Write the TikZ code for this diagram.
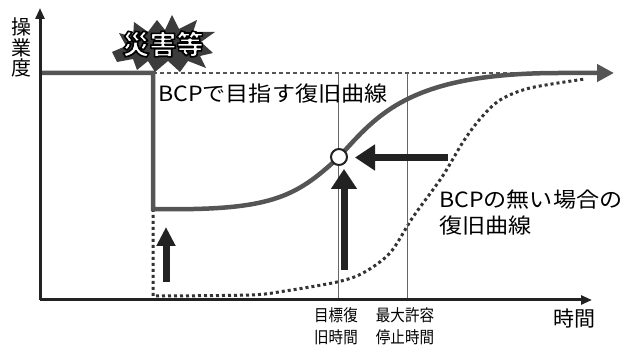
\documentclass[tikz,border=0pt]{standalone}
\usepackage{fontspec}
\usetikzlibrary{arrows.meta,calc}
\newfontfamily\jp[FakeStretch=1.1]{Noto Sans CJK JP}
\newfontfamily\jpn[FakeStretch=0.88]{Noto Sans CJK JP}
\newfontfamily\jpy{Noto Sans CJK JP}
\definecolor{axisc}{HTML}{222222}
\definecolor{curvec}{HTML}{555555}
\definecolor{dotc}{HTML}{333333}
\definecolor{thinc}{HTML}{666666}
\definecolor{burstc}{HTML}{3c3c3c}
\tikzset{
  axisline/.style={draw=axisc, line width=3pt, -{Triangle[length=11pt,width=9pt]}},
  mainline/.style={draw=curvec, line width=4.5pt, line join=miter},
  dotline/.style={draw=dotc, line width=3pt, dash pattern=on 3pt off 3pt},
  dashline/.style={draw=curvec, line width=1.2pt, dash pattern=on 4pt off 3pt},
  thinline/.style={draw=thinc, line width=1pt},
  bigarrow/.style={draw=axisc, line width=7pt, -{Triangle[length=20pt,width=25pt]}},
  lbl/.style={font=\jp\fontsize{21}{26}\selectfont, text=black, inner sep=0pt},
  smalllbl/.style={font=\jpn\fontsize{16.5}{22}\selectfont, text=black, inner sep=0pt, align=center},
  burstlbl/.style={font=\jpy\bfseries\fontsize{27}{27}\selectfont, inner sep=0pt}
}
\begin{document}
\begin{tikzpicture}[x=1pt,y=-1pt]
\useasboundingbox (0,0) rectangle (630,347);
% coordinates
\coordinate (O) at (40,300);
\coordinate (Ytop) at (40,8);
\coordinate (Xend) at (592,300);
\coordinate (L0) at (40,73);
\coordinate (Drop) at (153,73);
\coordinate (Low) at (153,209);
\coordinate (Mid) at (339,157);
\coordinate (Flat) at (560,73);
\coordinate (Tip) at (614,73);
\coordinate (Dtop) at (153,209);
\coordinate (Dbot) at (153,296);
\coordinate (DashS) at (153,73);
\coordinate (DashE) at (575,73);
\coordinate (T1top) at (338,73);
\coordinate (T1bot) at (338,300);
\coordinate (T2top) at (407,73);
\coordinate (T2bot) at (407,300);
\coordinate (A1s) at (448,157.5);
\coordinate (A1e) at (355,157.5);
\coordinate (A2s) at (344,270);
\coordinate (A2e) at (344,169);
\coordinate (A3s) at (166,282);
\coordinate (A3e) at (166,227);
\coordinate (BC) at (163,44);

% dotted recovery curve without BCP
\draw[dotline] (Dtop) -- (Dbot) -- plot[smooth] coordinates {(153,296) (250,295) (285,291) (337,282) (363,273) (390,253) (413,217) (442,177) (463,142) (480,119) (500,100) (530,88) (585,79)};
% dashed target level
\draw[dashline] (DashS) -- (DashE);
% thin vertical lines
\draw[thinline] (T1top) -- (T1bot);
\draw[thinline] (T2top) -- (T2bot);
% main curve
\draw[mainline, -{Triangle[length=17pt,width=17pt]}] (L0) -- (Drop) -- (Low)
  .. controls (270,211) and (295,198) .. (Mid)
  .. controls (378,114) and (410,73) .. (Flat) -- (Tip);
% circle
\node[circle, draw=axisc, fill=white, line width=2pt, minimum size=16pt, inner sep=0pt] (pt) at (Mid) {};
% big arrows
\draw[bigarrow] (A1s) -- (A1e);
\draw[bigarrow] (A2s) -- (A2e);
\draw[bigarrow, -{Triangle[length=19pt,width=18pt]}] (A3s) -- (A3e);
% axes
\draw[axisline] (O) -- (Ytop);
\draw[axisline] (O) -- (Xend);

% burst
\fill[burstc] (112,52) -- (126,46) -- (119,33) -- (133,37) -- (134,22) -- (148,32) -- (157,20) -- (165,30) -- (172,15) -- (179,29) -- (197,20) -- (193,32) -- (215,32) -- (201,42) -- (213,53) -- (200,56) -- (206,68) -- (188,61) -- (180,72) -- (168,61) -- (155,72) -- (148,61) -- (137,70) -- (133,59) -- (117,62) -- cycle;
\node[burstlbl, text=white] (burst) at (BC) {\special{pdf:code 2 Tr 1.6 w 1 j 0 G}災害等};

% labels
\node[lbl, align=center, font=\jpy\fontsize{20}{20.5}\selectfont] (ylab) at (21,47.5) {操\\業\\度};
\node[lbl, anchor=west] (bcp) at (158,94) {BCPで目指す復旧曲線};
\node[lbl, anchor=west, align=left] (nobcp) at (439,213) {BCPの無い場合の\\復旧曲線};
\node[smalllbl] (rto) at (336,326) {目標復\\旧時間};
\node[smalllbl] (mtpd) at (405,326) {最大許容\\停止時間};
\node[lbl, font=\jpy\fontsize{21}{26}\selectfont] (xlab) at (574,319) {時間};
\end{tikzpicture}
\end{document}
